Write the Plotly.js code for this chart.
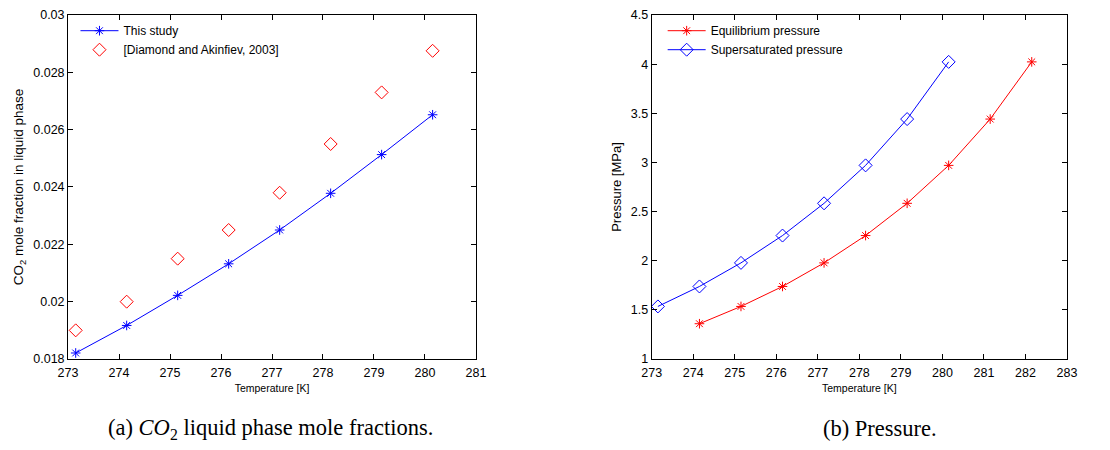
<!DOCTYPE html>
<html>
<head>
<meta charset="utf-8">
<script src="https://cdn.plot.ly/plotly-3.0.1.min.js"></script>
<style>
html,body{margin:0;padding:0;background:#fff;}
#chart{width:1110px;height:450px;}
</style>
</head>
<body>
<div id="chart"></div>
<script>
// ---- Data (a): CO2 liquid phase mole fractions ----
const tempA = [273.15, 274.15, 275.15, 276.15, 277.15, 278.15, 279.15, 280.15];
const thisStudy = [0.01821, 0.01917, 0.02022, 0.02132, 0.02250, 0.02378, 0.02513, 0.02652];
const diamondAkinfiev = [0.0190, 0.0200, 0.0215, 0.0225, 0.0238, 0.0255, 0.0273, 0.02875];

// ---- Data (b): Pressure ----
const tempEq = [274.15, 275.15, 276.15, 277.15, 278.15, 279.15, 280.15, 281.15, 282.15];
const eqPressure = [1.359, 1.535, 1.738, 1.978, 2.256, 2.584, 2.970, 3.441, 4.023];
const tempSup = [273.15, 274.15, 275.15, 276.15, 277.15, 278.15, 279.15, 280.15];
const supPressure = [1.535, 1.738, 1.978, 2.256, 2.584, 2.970, 3.441, 4.023];

const ticksA_x = [273, 274, 275, 276, 277, 278, 279, 280, 281];
const ticksA_y = [0.018, 0.02, 0.022, 0.024, 0.026, 0.028, 0.03];
const ticksB_x = [273, 274, 275, 276, 277, 278, 279, 280, 281, 282, 283];
const ticksB_y = [1, 1.5, 2, 2.5, 3, 3.5, 4, 4.5];

const BLUE = '#0000ff', RED = '#ff0000';
const FONT = 'Liberation Sans, Arial, Helvetica, sans-serif';
const SERIF = 'Liberation Serif, DejaVu Serif, serif';

const traces = [
  {x: tempA, y: thisStudy, name: 'This study', mode: 'lines+markers',
   line: {color: BLUE, width: 1},
   marker: {symbol: 'asterisk-open', size: 8, color: BLUE, line: {color: BLUE, width: 1}},
   xaxis: 'x', yaxis: 'y', legend: 'legend'},
  {x: tempA, y: diamondAkinfiev, name: '[Diamond and Akinfiev, 2003]', mode: 'markers',
   marker: {symbol: 'diamond-open', size: 10, color: RED, line: {color: RED, width: 1}},
   xaxis: 'x', yaxis: 'y', legend: 'legend'},
  {x: tempEq, y: eqPressure, name: 'Equilibrium pressure', mode: 'lines+markers',
   line: {color: RED, width: 1},
   marker: {symbol: 'asterisk-open', size: 8, color: RED, line: {color: RED, width: 1}},
   xaxis: 'x2', yaxis: 'y2', legend: 'legend2'},
  {x: tempSup, y: supPressure, name: 'Supersaturated pressure', mode: 'lines+markers',
   line: {color: BLUE, width: 1},
   marker: {symbol: 'diamond-open', size: 10, color: BLUE, line: {color: BLUE, width: 1}},
   xaxis: 'x2', yaxis: 'y2', legend: 'legend2'}
];

const axisBase = {
  showgrid: false, zeroline: false, showline: true, linecolor: '#000', linewidth: 1,
  mirror: 'ticks', ticks: 'inside', ticklen: 5, tickcolor: '#000', tickwidth: 1,
  tickfont: {family: FONT, size: 12.5, color: '#000'}
};

const yDom = [0.2022, 0.9667];

const layout = {
  width: 1110, height: 450,
  margin: {l: 0, r: 0, t: 0, b: 0},
  paper_bgcolor: '#fff', plot_bgcolor: '#fff',
  font: {family: FONT, color: '#000'},
  xaxis: Object.assign({}, axisBase, {
    domain: [0.0613, 0.4288], range: [273, 281], tickvals: ticksA_x, anchor: 'y',
    ticklabelstandoff: 2,
    title: {text: 'Temperature [K]', font: {family: FONT, size: 10.5}, standoff: 5}
  }),
  yaxis: Object.assign({}, axisBase, {
    domain: yDom, range: [0.018, 0.03], tickvals: ticksA_y, anchor: 'x',
    title: {text: 'CO<sub>2</sub> mole fraction in liquid phase', font: {family: FONT, size: 13.5}, standoff: 6}
  }),
  xaxis2: Object.assign({}, axisBase, {
    domain: [0.5871, 0.9613], range: [273, 283], tickvals: ticksB_x, anchor: 'y2',
    ticklabelstandoff: 2,
    title: {text: 'Temperature [K]', font: {family: FONT, size: 10.5}, standoff: 5}
  }),
  yaxis2: Object.assign({}, axisBase, {
    domain: yDom, range: [1, 4.5], tickvals: ticksB_y, anchor: 'x2',
    title: {text: 'Pressure [MPa]', font: {family: FONT, size: 13}, standoff: 6}
  }),
  legend: {x: 0.068, y: 0.964, xanchor: 'left', yanchor: 'top', bgcolor: 'rgba(0,0,0,0)',
    font: {family: FONT, size: 12}, tracegroupgap: 0, itemwidth: 38},
  legend2: {x: 0.597, y: 0.964, xanchor: 'left', yanchor: 'top', bgcolor: 'rgba(0,0,0,0)',
    font: {family: FONT, size: 12}, tracegroupgap: 0, itemwidth: 38},
  showlegend: true,
  annotations: [
    {text: '(a) <i>CO</i><sub>2</sub> liquid phase mole fractions.', xref: 'paper', yref: 'paper',
     x: 0.244, y: 0.047, xanchor: 'center', yanchor: 'middle', showarrow: false,
     font: {family: SERIF, size: 22.5, color: '#000'}},
    {text: '(b) Pressure.', xref: 'paper', yref: 'paper',
     x: 0.793, y: 0.047, xanchor: 'center', yanchor: 'middle', showarrow: false,
     font: {family: SERIF, size: 22.5, color: '#000'}}
  ]
};

Plotly.newPlot('chart', traces, layout, {displayModeBar: false, staticPlot: true});
</script>
</body>
</html>
